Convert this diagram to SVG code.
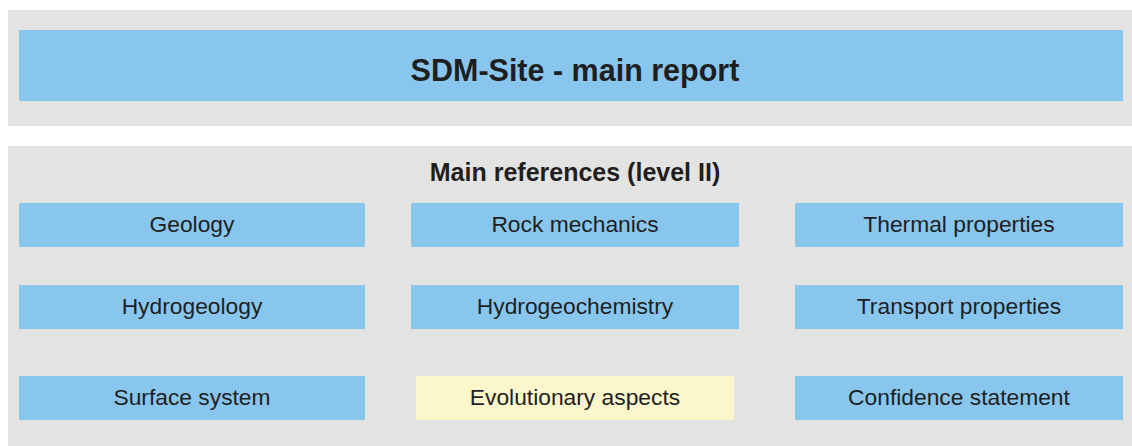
<svg xmlns="http://www.w3.org/2000/svg" width="1132" height="446" viewBox="0 0 1132 446">
  <style>
    .panel { fill: #e3e3e2; }
    .box { fill: #88c6ee; }
    .box-alt { fill: #fcf6cb; }
    .label { font-family: "Liberation Sans", Arial, sans-serif; font-size: 22.8px; fill: #1f1f1f; text-anchor: middle; dominant-baseline: central; }
    .title { font-family: "Liberation Sans", Arial, sans-serif; font-size: 30.5px; font-weight: bold; fill: #1f1f1f; text-anchor: middle; dominant-baseline: central; }
    .heading { font-family: "Liberation Sans", Arial, sans-serif; font-size: 25px; font-weight: bold; fill: #1f1f1f; text-anchor: middle; dominant-baseline: central; }
  </style>
  <rect width="1132" height="446" fill="#ffffff"/>

  <!-- upper panel: main report -->
  <rect class="panel" x="8" y="10" width="1124" height="116"/>
  <g id="main-report">
    <rect class="box" x="19" y="30" width="1104" height="71"/>
    <text class="title" x="575" y="70">SDM-Site - main report</text>
  </g>

  <!-- lower panel: level II references -->
  <rect class="panel" x="8" y="146" width="1124" height="300"/>
  <text class="heading" x="575" y="172">Main references (level II)</text>

  <g id="geology">
    <rect class="box" x="19" y="203" width="346" height="44"/>
    <text class="label" x="192" y="224">Geology</text>
  </g>
  <g id="rock-mechanics">
    <rect class="box" x="411" y="203" width="328" height="44"/>
    <text class="label" x="575" y="224">Rock mechanics</text>
  </g>
  <g id="thermal-properties">
    <rect class="box" x="795" y="203" width="328" height="44"/>
    <text class="label" x="959" y="224">Thermal properties</text>
  </g>

  <g id="hydrogeology">
    <rect class="box" x="19" y="285" width="346" height="44"/>
    <text class="label" x="192" y="306">Hydrogeology</text>
  </g>
  <g id="hydrogeochemistry">
    <rect class="box" x="411" y="285" width="328" height="44"/>
    <text class="label" x="575" y="306">Hydrogeochemistry</text>
  </g>
  <g id="transport-properties">
    <rect class="box" x="795" y="285" width="328" height="44"/>
    <text class="label" x="959" y="306">Transport properties</text>
  </g>

  <g id="surface-system">
    <rect class="box" x="19" y="376" width="346" height="44"/>
    <text class="label" x="192" y="397">Surface system</text>
  </g>
  <g id="evolutionary-aspects">
    <rect class="box-alt" x="416" y="376" width="318" height="44"/>
    <text class="label" x="575" y="397">Evolutionary aspects</text>
  </g>
  <g id="confidence-statement">
    <rect class="box" x="795" y="376" width="328" height="44"/>
    <text class="label" x="959" y="397">Confidence statement</text>
  </g>

  <g id="connectors"></g>
</svg>
